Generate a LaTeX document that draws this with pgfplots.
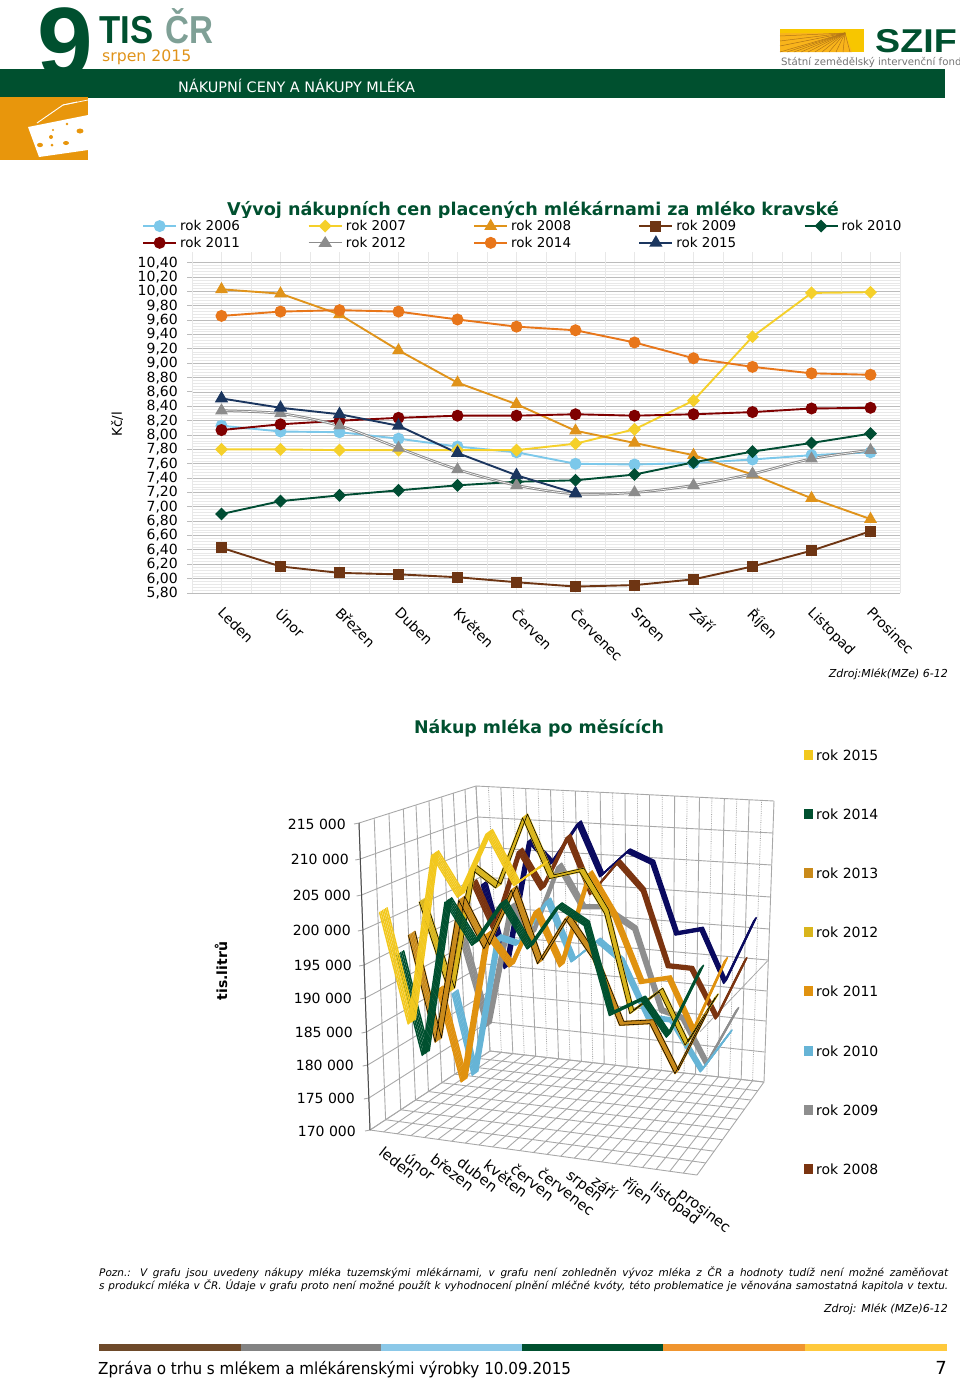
\documentclass[border=0pt]{standalone}
\usepackage{pgfplots}
\usepackage{pgfplotstable}
\usepackage{fontspec}
\pgfplotsset{compat=1.18}
\setmainfont{DejaVu Sans}
\newfontfamily\lib{Liberation Sans}
\newcommand\fs[1]{\fontsize{#1}{#1}\selectfont}
\definecolor{dkgreen}{HTML}{00502F}
\definecolor{szy}{HTML}{F7C600}
\definecolor{c06}{HTML}{7CC8EA}
\definecolor{c07}{HTML}{F5D02A}
\definecolor{c08}{HTML}{E0931A}
\definecolor{c09}{HTML}{6E3513}
\definecolor{c10}{HTML}{004D33}
\definecolor{c11}{HTML}{7F0000}
\definecolor{c12}{HTML}{8C8C8C}
\definecolor{c14}{HTML}{E8761A}
\definecolor{c15}{HTML}{1B365F}
\definecolor{gmaj}{HTML}{BCBCBC}
\definecolor{gmin}{HTML}{E8E8E8}
\definecolor{gr3}{HTML}{A8A8A8}
\definecolor{r15}{HTML}{F2C81E}
\definecolor{r14}{HTML}{00502F}
\definecolor{r13}{HTML}{C98A1A}
\definecolor{r12}{HTML}{D9B51C}
\definecolor{r11}{HTML}{E0920F}
\definecolor{r10}{HTML}{66B4D6}
\definecolor{r09}{HTML}{8E8E8E}
\definecolor{r08}{HTML}{7B3410}
\definecolor{r07}{HTML}{0A0A60}
\definecolor{cr}{HTML}{7FA096}
\definecolor{chz}{HTML}{E8960C}

% Price chart: month, CZK per litre
\pgfplotstableread{
m  a06  a07  a08   a09  a10  a11  a12  a14  a15
1  8.13 7.80 10.03 6.43 6.90 8.07 8.34 9.66 8.51
2  8.05 7.80 9.97  6.17 7.08 8.15 8.30 9.72 8.38
3  8.04 7.79 9.68  6.08 7.16 8.20 8.13 9.74 8.29
4  7.95 7.79 9.18  6.06 7.23 8.24 7.82 9.72 8.13
5  7.84 7.79 8.73  6.02 7.30 8.27 7.52 9.61 7.75
6  7.76 7.79 8.43  5.95 7.35 8.27 7.30 9.51 7.44
7  7.60 7.88 8.06  5.89 7.37 8.29 7.18 9.46 7.19
8  7.59 8.08 7.89  5.91 7.45 8.27 7.20 9.29 nan
9  7.61 8.48 7.72  5.99 7.62 8.29 7.30 9.07 nan
10 7.66 9.37 7.45  6.17 7.77 8.32 7.46 8.95 nan
11 7.72 9.98 7.12  6.39 7.89 8.37 7.67 8.86 nan
12 7.76 9.99 6.83  6.66 8.02 8.38 7.79 8.84 nan
}\tprice

% Purchases chart: it is a perspective 3-D chart, so each point is kept as the
% position in the picture (x, y from top-left) at which the series passes that month.
\pgfplotstableread{
x y
484 883
506.7 966.7
530 840
551.7 863
579 822.7
601.7 875
628.3 850.7
652.7 862.3
676.7 933.3
701.7 929
725 981.7
755 919.3
}\tA
\pgfplotstableread{
x y
474 881.7
495 928.3
520 850
542.7 888.3
568.3 836
591.7 893
618.3 861.7
643.3 890
668.3 965.7
691.7 968.3
716.7 1017.3
745.7 959.3
}\tB
\pgfplotstableread{
x y
463.3 938.3
488.3 1025
511.7 905
533 933
559.3 865
583.3 906.7
603.3 906.7
635 928.3
661.7 1010
683 1018
706.7 1063.3
737.3 1009.3
}\tC
\pgfplotstableread{
x y
455 991.7
475 1073.3
498.3 936.7
518.3 943.3
548.3 900
573.3 960
598.3 940
621.7 960
648.3 1016.7
671.7 1020
701.7 1070
730.7 1031.7
}\tD
\pgfplotstableread{
x y
440 988
464 1080
488 933
511.7 965
536.7 910
561.7 965
590 872.7
615 915
641.7 981.7
669.3 977.7
693.3 1030
726 959.3
}\tE
\pgfplotstableread{
x y
422.3 900
451.7 990
473.3 866.7
498.3 886
525 816
551.7 876.7
581.7 870
606.7 911.7
631.7 1011.7
661 990
686.7 1043.3
716.7 995.7
}\tF
\pgfplotstableread{
x y
411.7 933.3
438.3 1040
461.7 898.3
486.7 946.7
514 888
540 961.7
567.7 916.7
595 957
621.7 1023.3
651.7 1021.7
676.7 1071.7
707 1012
}\tG
\pgfplotstableread{
x y
400 953
425.7 1053
448.3 900
475 943
503.3 901.7
530 946.7
559.3 905
586.7 923.3
611.7 1013.3
643.3 998.3
668.3 1035
701.7 967.3
}\tH
\pgfplotstableread{
x y
383.3 910
411.7 1021.7
435 853
460.7 895
489.3 831.7
516.7 883.3
545 863.3
}\tI

% A ribbon: the polyline swept along the depth direction of the 3-D chart
\newcommand\ribbon[3]{%
  \pgfplotsinvokeforeach{-0.5,-0.3,-0.1,0.1,0.3,0.5}{%
    \addplot[color=#2,line width=1.5pt,line join=round,line cap=round,forget plot]
      table[x expr={\thisrow{x}+##1*#3*(6.5-4*(\thisrow{x}-380)/375)},
            y expr={\thisrow{y}+##1*#3*(-4+0.5*(\thisrow{x}-380)/375)}]{#1};
  }%
}
\newcommand\ribbonedge[2]{%
  \pgfplotsinvokeforeach{-0.5,0.5}{%
    \addplot[color=black,line width=0.55pt,line join=round,forget plot]
      table[x expr={\thisrow{x}+##1*#2*(6.5-4*(\thisrow{x}-380)/375)},
            y expr={\thisrow{y}+##1*#2*(-4+0.5*(\thisrow{x}-380)/375)}]{#1};
  }%
}
\begin{document}
\begin{tikzpicture}[x=1pt,y=-1pt]
\useasboundingbox (0,0) rectangle (960,1379);
% ---------- header ----------
\node[anchor=base west,inner sep=0pt,text=dkgreen] at (37,77) {\lib\bfseries\fs{100}9};
\fill[dkgreen] (0,68.5) rectangle (945,98);
\node[anchor=base west,inner sep=0pt,text=dkgreen,xscale=.89] at (99,43) {\lib\bfseries\fs{39}TIS};
\node[anchor=base west,inner sep=0pt,text=cr,xscale=.85] at (165,43) {\lib\bfseries\fs{39}ČR};
\node[anchor=base west,inner sep=0pt,text=c08] at (102,61) {\fs{15.7}srpen 2015};
\node[anchor=base west,inner sep=0pt,text=white] at (178,92.5) {\fs{14.4}NÁKUPNÍ CENY A NÁKUPY MLÉKA};
\fill[chz] (0,97) rectangle (88,160);
\fill[white] (28,127) -- (88,115) -- (88,150) -- (39,157) -- cycle;
\draw[white,line width=.9pt] (37,123) -- (63,105) -- (77,102);
\draw[white,line width=.7pt] (63,105) -- (88,100);
\fill[chz] (80,131) ellipse (3.5 and 2.5);
\fill[chz] (66,143) ellipse (3 and 2);
\fill[chz] (40,145) ellipse (3 and 2.2);
\foreach \a/\b/\r in {67/124/1.3,53/130/1.2,51/137/2,52/145/1.5}
  \fill[chz] (\a,\b) circle (\r);
\fill[szy] (780,29) rectangle (864,52);
\fill[c07!65!orange] (780,33) -- (845,33) -- (852,52) -- (780,52) -- cycle;
\foreach \k in {780,787,...,851} \draw[c08!80!black,line width=.5pt] (\k,52) -- (845,33);
\foreach \k in {36,41,46} \draw[c08!80!black,line width=.5pt] (780,\k) -- (845,33);
\node[anchor=base west,inner sep=0pt,text=dkgreen,xscale=1.14] at (875,52.5) {\lib\bfseries\fs{33}SZIF};
\node[anchor=base west,inner sep=0pt,text=black!55] at (781,65) {\fs{10.2}Státní zemědělský intervenční fond};
% ---------- price chart ----------
\node[anchor=base,inner sep=0pt,text=dkgreen] at (533,215.5) {\bfseries\fs{17.6}Vývoj nákupních cen placených mlékárnami za mléko kravské};
\fill[white] (120,217.5) rectangle (930,250);
\node[rotate=90,inner sep=0pt] at (117,424) {\fs{13.5}Kč/l};
\begin{axis}[
  at={(192pt,-593pt)},anchor=south west,scale only axis,width=708pt,height=341pt,
  xmin=0.5,xmax=12.5,ymin=5.8,ymax=10.55,
  axis lines=left,axis line style={-,color=gmaj,line width=1pt},
  xtick={1,...,12},
  xticklabels={Leden,Únor,Březen,Duben,Květen,Červen,Červenec,Srpen,Září,Říjen,Listopad,Prosinec},
  xticklabel style={rotate=-45,anchor=north west,font=\fs{14},inner sep=0pt,xshift=7.75pt,yshift=-3.35pt},
  major x tick style={draw=none},
  xmajorgrids,x grid style={color=gmin,line width=.8pt},
  extra x ticks={0.5,1.5,...,12.5},extra x tick labels={},
  extra x tick style={grid=major,major grid style={color=gmaj,line width=1pt},tick style={color=gmaj,line width=1pt}},
  ytick={5.8,6,...,10.41},
  minor y tick num=4,
  ymajorgrids,yminorgrids,
  y grid style={color=gmaj,line width=.9pt},
  minor y grid style={color=gmin,line width=.5pt},
  minor y tick style={draw=none},
  ytick style={color=gmaj,line width=1pt},
  major tick length=5pt,
  yticklabel style={font=\fs{14},inner sep=0pt,xshift=-9pt},
  yticklabel={\pgfmathprintnumber[fixed,fixed zerofill,precision=2,use comma,assume math mode=true]{\tick}},
  tick align=outside,
  axis on top=false,
  legend columns=5,
  legend cell align=left,
  legend style={at={(-0.0706,1.0997)},anchor=north west,draw=none,fill=none,inner sep=0pt,
    font=\fs{13.5},row sep=1pt,
    /tikz/every odd column/.append style={column sep=1pt},
    /tikz/every even column/.append style={column sep=65.3pt}},
  legend image code/.code={\draw[mark repeat=2,mark phase=2,#1] plot coordinates {(0pt,0pt) (16.5pt,0pt) (33pt,0pt)};},
  every axis plot/.append style={line width=1.9pt,mark options={solid}},
]
\addplot[c06,mark=*,mark size=5pt,mark options={fill=c06,draw=c06}] table[x=m,y=a06]{\tprice};
\addlegendentry{rok 2006}
\addplot[c07,mark=square*,mark size=3.6pt,mark options={fill=c07,draw=c07,rotate=45}] table[x=m,y=a07]{\tprice};
\addlegendentry{rok 2007}
\addplot[c08,mark=triangle*,mark size=5.5pt,mark options={fill=c08,draw=c08}] table[x=m,y=a08]{\tprice};
\addlegendentry{rok 2008}
\addplot[c09,mark=square*,mark size=4.6pt,mark options={fill=c09,draw=c09}] table[x=m,y=a09]{\tprice};
\addlegendentry{rok 2009}
\addplot[c10,mark=square*,mark size=3.6pt,mark options={fill=c10,draw=c10,rotate=45}] table[x=m,y=a10]{\tprice};
\addlegendentry{rok 2010}
\addplot[c11,mark=*,mark size=5pt,mark options={fill=c11,draw=c11}] table[x=m,y=a11]{\tprice};
\addlegendentry{rok 2011}
\addplot[c12,smooth,line width=2.6pt,forget plot] table[x=m,y=a12]{\tprice};
\addplot[white,smooth,line width=.6pt,forget plot] table[x=m,y=a12]{\tprice};
\addplot[c12,only marks,mark=triangle*,mark size=5.5pt,mark options={fill=c12,draw=c12},
  legend image code/.code={\draw[c12,line width=2.6pt] (0pt,0pt) -- (33pt,0pt);\draw[white,line width=.6pt] (0pt,0pt) -- (33pt,0pt);\fill[c12] (16.5pt,5pt) -- (11.5pt,-3pt) -- (21.5pt,-3pt) -- cycle;}] table[x=m,y=a12]{\tprice};
\addlegendentry{rok 2012}
\addplot[c14,mark=*,mark size=5pt,mark options={fill=c14,draw=c14}] table[x=m,y=a14]{\tprice};
\addlegendentry{rok 2014}
\addplot[c15,mark=triangle*,mark size=5.8pt,mark options={fill=c15,draw=c15}] table[x=m,y=a15]{\tprice};
\addlegendentry{rok 2015}
\end{axis}
\node[anchor=base east,inner sep=0pt] at (948,677) {\itshape\fs{11}Zdroj:Mlék(MZe) 6-12};
% ---------- purchases chart ----------
\node[anchor=base,inner sep=0pt,text=dkgreen] at (539,733) {\bfseries\fs{17.4}Nákup mléka po měsících};
\node[rotate=90,inner sep=0pt] at (221,971) {\bfseries\fs{14}tis.litrů};
% walls and floor grid
\foreach \yf/\yb/\yr in {823/786/801,859/817/833,895/847/865,930/877/897,965/906/929,998/935/960,1032/964/991,1065/993/1021,1098/1022/1052,1130/1051/1082}{
  \pgfmathsetmacro\xf{359+11*(\yf-823)/307}
  \pgfmathsetmacro\xb{476+14*(\yb-786)/265}
  \pgfmathsetmacro\xr{774-10.5*(\yr-801)/281}
  \draw[gr3,line width=.9pt] (\xf-5,\yf+1) -- (\xf,\yf) -- (\xb,\yb) -- (\xr,\yr);
}
\foreach \i in {0,...,24}{
  \pgfmathsetmacro\xt{476+298*\i/24}
  \pgfmathsetmacro\yt{786+15*\i/24}
  \pgfmathsetmacro\xu{490+274*\i/24}
  \pgfmathsetmacro\yu{1051+31*\i/24}
  \pgfmathtruncatemacro\od{mod(\i,2)}
  \ifnum\od=1
    \draw[gr3,line width=.8pt,densely dotted] (\xt,\yt) -- (\xu,\yu);
  \else
    \draw[gr3,line width=.9pt] (\xt,\yt) -- (\xu,\yu);
  \fi
  \pgfmathsetmacro\xv{370+327*\i/24}
  \pgfmathsetmacro\yv{1130+45*\i/24}
  \draw[gr3,line width=.9pt] (\xv,\yv) -- (\xu,\yu);
}
\foreach \f in {0,.13,.256,.379,.487,.598,.707,.806,.906,1}{
  \pgfmathsetmacro\xt{359+117*\f}
  \pgfmathsetmacro\yt{823-37*\f}
  \pgfmathsetmacro\xu{370+120*\f}
  \pgfmathsetmacro\yu{1130-79*\f}
  \draw[gr3,line width=.9pt] (\xt,\yt) -- (\xu,\yu);
  \pgfmathsetmacro\xr{697+67*\f}
  \pgfmathsetmacro\yr{1175-93*\f}
  \draw[gr3,line width=.9pt] (\xu,\yu) -- (\xr,\yr);
}
\draw[gr3,line width=.8pt] (700,1031.7) -- (767.7,960.7);
\draw[black!70,line width=1pt] (359,823) -- (370,1130);
\begin{axis}[
  at={(0pt,0pt)},anchor=north west,scale only axis,width=960pt,height=1379pt,
  xmin=0,xmax=960,ymin=0,ymax=1379,y dir=reverse,hide axis,clip=false,
]
% series, back to front
\ribbon{\tA}{r07}{.95}
\ribbon{\tB}{r08}{.95}
\ribbon{\tC}{r09}{1}
\ribbon{\tD}{r10}{1}
\ribbon{\tE}{r11}{1}
\ribbon{\tF}{r12}{1}
\ribbonedge{\tF}{1}
\ribbon{\tG}{r13}{1.05}
\ribbonedge{\tG}{1.05}
\ribbon{\tH}{r14}{1.15}
\ribbon{\tI}{r15}{1.15}
\end{axis}
% value labels
\foreach \v/\a/\b in {215 000/346/824,210 000/349/859,205 000/351/895,200 000/351/930,195 000/352/965,190 000/352/998,185 000/353/1032,180 000/354/1065,175 000/355/1098,170 000/356/1131}
  \node[anchor=east,inner sep=0pt] at (\a,\b) {\fs{14}\v};
% month labels
\foreach \t/\a/\b in {leden/381/1150,únor/406.7/1156,březen/432.7/1156.7,duben/459.3/1160,květen/486/1163,červen/512.7/1166.7,červenec/540/1170.7,srpen/566.7/1175,září/594/1179,říjen/624.3/1181.7,listopad/651.7/1186,prosinec/679.3/1192}
  \node[anchor=west,rotate=-38,inner sep=0pt] at (\a,\b) {\fs{14.6}\t};
% legend of the purchases chart
\foreach \y/\t/\c in {755/rok 2015/r15,814/rok 2014/r14,873/rok 2013/r13,932/rok 2012/r12,991/rok 2011/r11,1051/rok 2010/r10,1110/rok 2009/r09,1169/rok 2008/r08}{
  \fill[\c] (804,\y-5) rectangle (813,\y+5);
  \node[anchor=west,inner sep=0pt] at (816,\y) {\fs{14}\t};
}
% ---------- note and footer ----------
\node[anchor=base west,inner sep=0pt] at (99,1276) {\makebox[849pt][s]{\itshape\fs{10.5}Pozn.: V grafu jsou uvedeny nákupy mléka tuzemskými mlékárnami, v grafu není zohledněn vývoz mléka z ČR a hodnoty tudíž není možné zaměňovat}};
\node[anchor=base west,inner sep=0pt] at (99,1289) {\makebox[849pt][s]{\itshape\fs{10.5}s produkcí mléka v ČR. Údaje v grafu proto není možné použít k vyhodnocení plnění mléčné kvóty, této problematice je věnována samostatná kapitola v textu.}};
\node[anchor=base east,inner sep=0pt] at (948,1312) {\itshape\fs{11}Zdroj: Mlék (MZe)6-12};
\foreach \a/\b/\c in {99/241/6E4A2A,241/381/838383,381/522/8BC8E8,522/663/00502F,663/805/F0952F,805/947/FFC93C}{
  \definecolor{tmp}{HTML}{\c}
  \fill[tmp] (\a,1344) rectangle (\b,1351);
}
\node[anchor=base west,inner sep=0pt,xscale=.92] at (98,1374) {\fs{16.5}Zpráva o trhu s mlékem a mlékárenskými výrobky 10.09.2015};
\node[anchor=base east,inner sep=0pt] at (947,1374) {\fs{18}7};
\end{tikzpicture}
\end{document}
